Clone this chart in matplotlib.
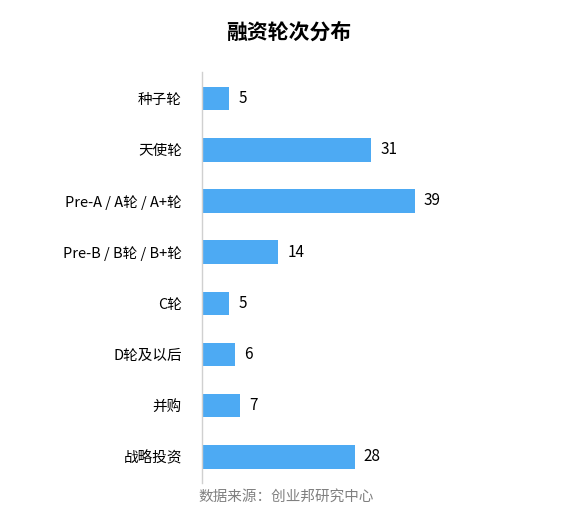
import matplotlib.pyplot as plt

plt.rcParams['font.family'] = ['Noto Sans CJK SC', 'DejaVu Sans']

# data
rounds = ['种子轮', '天使轮', 'Pre-A / A轮 / A+轮', 'Pre-B / B轮 / B+轮',
          'C轮', 'D轮及以后', '并购', '战略投资']
counts = [5, 31, 39, 14, 5, 6, 7, 28]

fig = plt.figure(figsize=(5.67, 5.21), dpi=100)
ax = fig.add_axes([0.3563, 0.0729, 0.596, 0.789])

y = list(range(len(rounds)))
ax.barh(y, counts, height=0.46, color='#4DAAF3')
for i, v in enumerate(counts):
    ax.text(v + 1.7, i, str(v), va='center', ha='left', fontsize=11, color='#000000')

ax.set_yticks(y)
ax.set_yticklabels(rounds, fontsize=10.5)
ax.set_ylim(7.51, -0.52)
ax.set_xlim(0, 62)
ax.set_xticks([])
ax.tick_params(axis='y', length=0, pad=14.5)
for s in ['top', 'right', 'bottom']:
    ax.spines[s].set_visible(False)
ax.spines['left'].set_color('#d0d0d0')
ax.spines['left'].set_linewidth(1.0)

fig.text(0.51, 0.938, '融资轮次分布', ha='center', va='center', fontsize=15, fontweight='bold')
fig.text(0.505, 0.046, '数据来源：创业邦研究中心', ha='center', va='center', fontsize=10.5, color='#808080')

fig.savefig('out.png', dpi=100)
